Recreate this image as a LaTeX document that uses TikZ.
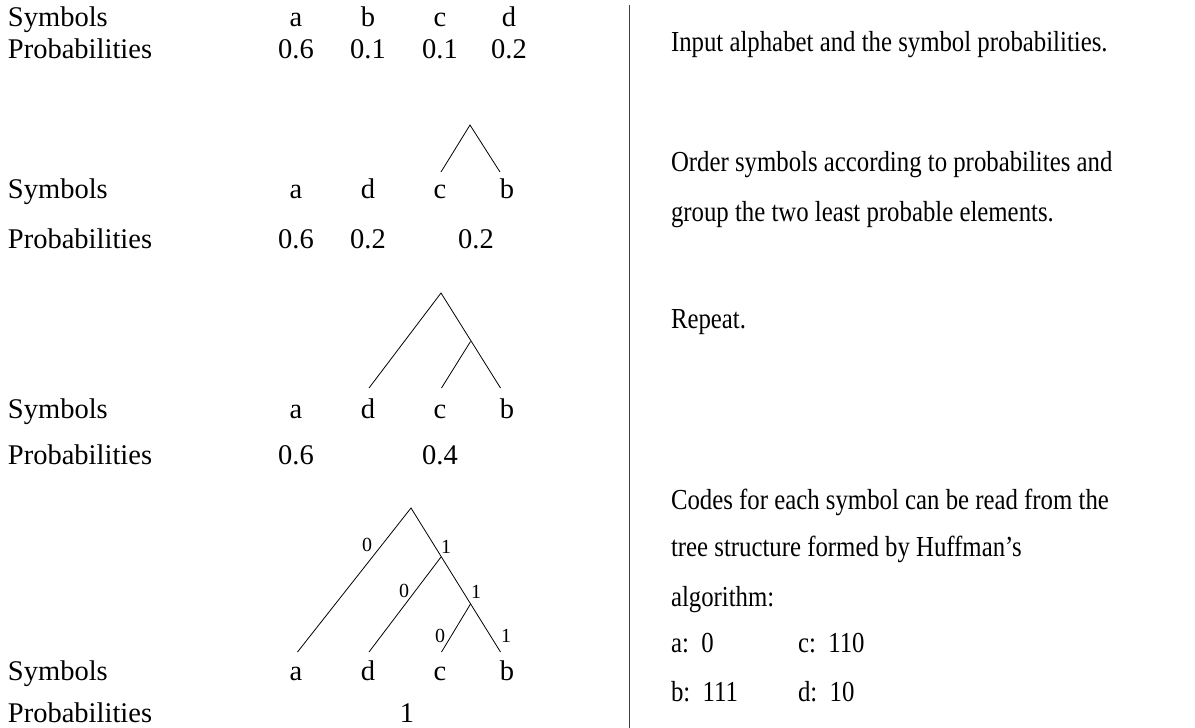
\documentclass[tikz,border=0pt]{standalone}
\usepackage{fontspec}
\setmainfont{Liberation Serif}
\newfontfamily\notefont[Ligatures=TeX, FakeStretch=0.855]{Liberation Serif}
\usetikzlibrary{positioning}
\tikzset{every node/.style={inner sep=0pt, outer sep=0pt}}
\tikzstyle{lbl} = [anchor=base west]
\tikzstyle{sym} = [anchor=base]
\tikzstyle{note} = [anchor=base west, font={\notefont\fontsize{29}{34}\selectfont}]
\tikzstyle{branch} = [draw=black, line width=0.8pt]
\tikzstyle{bit} = [anchor=base, font=\fontsize{20}{24}\selectfont]
\tikzstyle{rule} = [draw=black!75, line width=1pt]

\begin{document}
\begin{tikzpicture}[x=1pt, y=-1pt, font=\fontsize{28.5}{34}\selectfont]
  \useasboundingbox (0,0) rectangle (1195,728);

  % row headings
  \foreach \r/\ys/\yp in {1/26/58, 2/198/248, 3/418/464, 4/680/722} {
    \node[lbl] (sym\r) at (8,\ys) {Symbols};
    \node[lbl] (prob\r) at (8,\yp) {Probabilities};
  }

  % step 1: input alphabet
  \foreach \s/\x in {a/296, b/368, c/440, d/509}
    \node[sym] (\s1) at (\x,26) {\s};
  \foreach \n/\p in {a/0.6, b/0.1, c/0.1, d/0.2}
    \node[sym] (p\n1) at (\n1 |- 0,58) {\p};

  % step 2: c and b grouped
  \foreach \s/\x in {a/296, d/368, c/440, b/507}
    \node[sym] (\s2) at (\x,198) {\s};
  \node[sym] (pa2) at (296,248) {0.6};
  \node[sym] (pd2) at (368,248) {0.2};
  \node[sym] (pcb2) at (476,248) {0.2};
  \coordinate (t2) at (470,125);
  \coordinate (t2c) at (441,172);
  \coordinate (t2b) at (500,172);
  \draw[branch] (t2c) -- (t2) -- (t2b);

  % step 3: d joins (c,b)
  \foreach \s/\x in {a/296, d/368, c/440, b/507}
    \node[sym] (\s3) at (\x,418) {\s};
  \node[sym] (pa3) at (296,464) {0.6};
  \node[sym] (pdcb3) at (440,464) {0.4};
  \coordinate (t3) at (441,293);
  \coordinate (t3n) at (470.5,341.5);
  \coordinate (t3d) at (369,388);
  \coordinate (t3c) at (441.5,388);
  \coordinate (t3b) at (500.5,388);
  \draw[branch] (t3d) -- (t3) -- (t3b);
  \draw[branch] (t3n) -- (t3c);

  % step 4: full tree with bits
  \foreach \s/\x in {a/296, d/368, c/440, b/507}
    \node[sym] (\s4) at (\x,680) {\s};
  \node[sym] (pall4) at (407,722) {1};
  \coordinate (t4) at (411,508);
  \coordinate (t4n) at (441,557);
  \coordinate (t4m) at (470.5,604);
  \coordinate (t4a) at (297.5,652);
  \coordinate (t4d) at (369,652);
  \coordinate (t4c) at (441.5,652);
  \coordinate (t4b) at (500.5,652);
  \draw[branch] (t4a) -- (t4) -- (t4b);
  \draw[branch] (t4n) -- (t4d);
  \draw[branch] (t4m) -- (t4c);
  \node[bit] (b4a) at (367,551) {0};
  \node[bit] (b4n) at (446,553) {1};
  \node[bit] (b4d) at (404,597) {0};
  \node[bit] (b4m) at (476,598) {1};
  \node[bit] (b4c) at (440,642) {0};
  \node[bit] (b4b) at (506,642) {1};

  % divider
  \coordinate (rtop) at (629,5);
  \coordinate (rbot) at (629,728);
  \draw[rule] (rtop) -- (rbot);

  % explanations
  \node[note] (n1) at (671,51) {Input alphabet and the symbol probabilities.};
  \node[note] (n2) at (671,171) {Order symbols according to probabilites and};
  \node[note] (n3) at (671,221) {group the two least probable elements.};
  \node[note] (n4) at (671,328) {Repeat.};
  \node[note] (n5) at (671,509) {Codes for each symbol can be read from the};
  \node[note] (n6) at (671,556) {tree structure formed by Huffman's};
  \node[note] (n7) at (671,606) {algorithm:};
  \node[note] (ca) at (671,652) {a:~~0};
  \node[note] (cc) at (798,652) {c:~~110};
  \node[note] (cb) at (671,701) {b:~~111};
  \node[note] (cd) at (798,701) {d:~~10};
\end{tikzpicture}
\end{document}
